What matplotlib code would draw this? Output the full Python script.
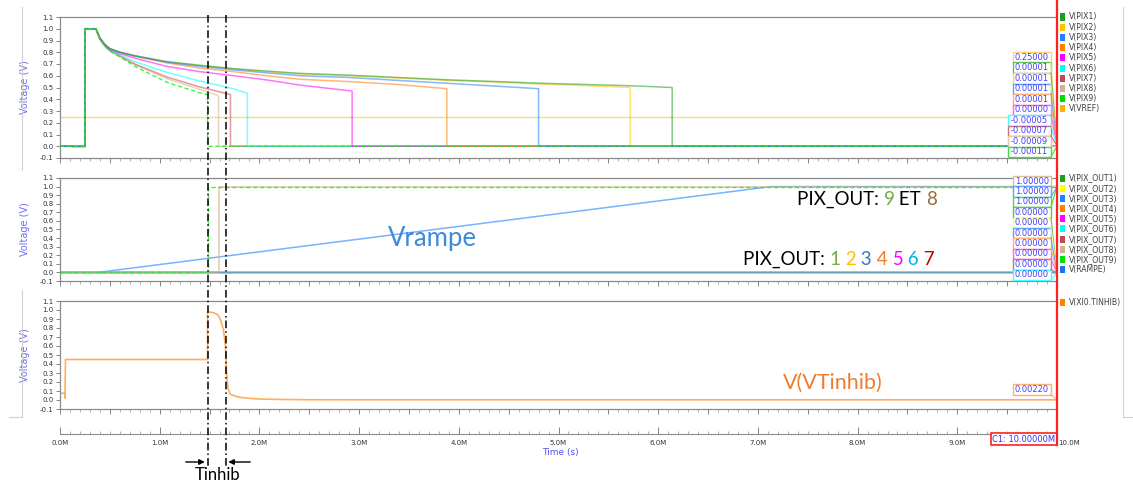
import numpy as np
import matplotlib
matplotlib.use("Agg")
import matplotlib.pyplot as plt
from matplotlib.patches import Rectangle, FancyArrowPatch
from matplotlib.lines import Line2D

W, H = 1133, 484

# ---- top panel : V(PIX1..9), V(VREF)  (time in M units) ----
pix1_t = [0, 0.25, 0.25, 0.36, 0.40, 0.45, 0.50, 0.60, 0.75, 1.07, 1.40, 1.74, 2.07, 2.41, 2.90, 3.40, 3.90, 4.40, 4.80, 5.30, 5.72, 6.14, 6.14, 10]
pix1_v = [0, 0, 1.0, 1.0, 0.92, 0.865, 0.83, 0.80, 0.77, 0.72, 0.69, 0.66, 0.64, 0.62, 0.605, 0.585, 0.565, 0.55, 0.537, 0.525, 0.515, 0.50, 0, 0]
pix2_t = [0, 0.25, 0.25, 0.36, 0.40, 0.45, 0.50, 0.60, 0.75, 1.07, 1.40, 1.74, 2.07, 2.41, 2.90, 3.40, 3.90, 4.40, 4.80, 5.30, 5.72, 5.72, 10]
pix2_v = [0, 0, 1.0, 1.0, 0.92, 0.865, 0.83, 0.80, 0.77, 0.72, 0.685, 0.66, 0.635, 0.615, 0.60, 0.58, 0.56, 0.545, 0.53, 0.515, 0.50, 0, 0]
pix3_t = [0, 0.25, 0.25, 0.36, 0.40, 0.45, 0.50, 0.60, 0.75, 1.07, 1.40, 1.74, 2.07, 2.41, 2.90, 3.40, 3.90, 4.40, 4.80, 4.80, 10]
pix3_v = [0, 0, 1.0, 1.0, 0.92, 0.865, 0.83, 0.80, 0.77, 0.715, 0.68, 0.65, 0.625, 0.60, 0.585, 0.56, 0.535, 0.51, 0.49, 0, 0]
pix4_t = [0, 0.25, 0.25, 0.36, 0.40, 0.45, 0.50, 0.60, 0.75, 1.07, 1.40, 1.74, 2.07, 2.41, 2.90, 3.40, 3.88, 3.88, 10]
pix4_v = [0, 0, 1.0, 1.0, 0.92, 0.865, 0.83, 0.80, 0.765, 0.71, 0.665, 0.635, 0.60, 0.57, 0.55, 0.525, 0.49, 0, 0]
pix5_t = [0, 0.13, 0.13, 0.25, 0.25, 0.36, 0.40, 0.45, 0.50, 0.60, 0.75, 1.07, 1.40, 1.74, 2.07, 2.41, 2.93, 2.93, 10]
pix5_v = [0, 0, -0.005, -0.005, 1.0, 1.0, 0.92, 0.86, 0.825, 0.79, 0.75, 0.68, 0.635, 0.60, 0.565, 0.52, 0.47, 0, 0]
pix6_t = [0, 0.25, 0.25, 0.36, 0.40, 0.45, 0.50, 0.60, 0.75, 1.07, 1.40, 1.48, 1.74, 1.88, 1.88, 10]
pix6_v = [0, 0, 1.0, 1.0, 0.92, 0.86, 0.82, 0.78, 0.72, 0.63, 0.555, 0.54, 0.49, 0.45, 0, 0]
pix7_t = [0, 0.25, 0.25, 0.36, 0.40, 0.45, 0.50, 0.60, 0.75, 1.07, 1.40, 1.59, 1.71, 1.71, 10]
pix7_v = [0, 0, 1.0, 1.0, 0.91, 0.855, 0.815, 0.77, 0.70, 0.59, 0.505, 0.465, 0.44, 0, 0]
pix8_t = [0, 0.25, 0.25, 0.36, 0.40, 0.45, 0.50, 0.60, 0.75, 1.07, 1.40, 1.59, 1.59, 10]
pix8_v = [0, 0, 1.0, 1.0, 0.91, 0.85, 0.81, 0.765, 0.695, 0.575, 0.485, 0.43, 0, 0]
pix9_t = [0, 0.25, 0.25, 0.36, 0.40, 0.45, 0.50, 0.60, 0.75, 1.07, 1.40, 1.48, 1.48, 10]
pix9_v = [0, 0, 1.0, 1.0, 0.91, 0.85, 0.81, 0.76, 0.68, 0.545, 0.455, 0.44, 0, 0]
vref = 0.25

# ---- middle panel : V(PIX_OUTx), V(RAMPE) ----
out9_t = [0, 1.48, 1.48, 10]
out9_v = [0, 0, 1.0, 1.0]
out8_t = [0, 1.59, 1.59, 10]
out8_v = [0, 0, 1.0, 1.0]
out_low_t = [0, 10]
out_low_v = [0, 0]
rampe_t = [0.38, 7.13, 10]
rampe_v = [0, 1.0, 1.0]

# ---- bottom panel : V(XI0.TINHIB) ----
tinhib_t = [0, 0.05, 0.05, 0.055, 1.48, 1.48, 1.54, 1.58, 1.605, 1.64, 1.66, 1.67, 1.685, 1.705, 1.75, 1.805, 1.9, 2.0, 2.2, 2.5, 3.0, 10]
tinhib_v = [0.075, 0.075, 0.02, 0.45, 0.45, 0.98, 0.97, 0.95, 0.905, 0.78, 0.59, 0.30, 0.13, 0.067, 0.045, 0.03, 0.018, 0.011, 0.006, 0.003, 0.0025, 0.0022]

cursors = [1.48, 1.66]

top_names = ["V(PIX1)", "V(PIX2)", "V(PIX3)", "V(PIX4)", "V(PIX5)", "V(PIX6)", "V(PIX7)", "V(PIX8)", "V(PIX9)", "V(VREF)"]
top_colors = ["#1e9e1e", "#ffc400", "#2080ff", "#ff7f00", "#ff00ff", "#00ffff", "#c04a55", "#d2b48c", "#00dd00", "#ffb000"]
mid_names = ["V(PIX_OUT1)", "V(PIX_OUT2)", "V(PIX_OUT3)", "V(PIX_OUT4)", "V(PIX_OUT5)", "V(PIX_OUT6)", "V(PIX_OUT7)", "V(PIX_OUT8)", "V(PIX_OUT9)", "V(RAMPE)"]
mid_colors = ["#1e9e1e", "#ffff00", "#2080ff", "#ff7f00", "#ff00ff", "#00ffff", "#c04a55", "#d2b48c", "#00dd00", "#2070e0"]

top_box_vals = ["0.25000", "0.00001", "0.00001", "0.00001", "0.00001", "0.00000", "-0.00005", "-0.00007", "-0.00009", "-0.00011"]
top_box_cols = ["#ffd070", "#60c060", "#ffd060", "#60a0ff", "#ffb070", "#ff60ff", "#40ffff", "#d07070", "#e0c8a8", "#40e040"]
mid_box_vals = ["1.00000", "1.00000", "1.00000", "0.00000", "0.00000", "0.00000", "0.00000", "0.00000", "0.00000", "0.00000"]
mid_box_cols = ["#d8c0a0", "#60a0ff", "#40e040", "#60c060", "#ffff80", "#60a0ff", "#ffb070", "#ff60ff", "#d07070", "#40ffff"]
mid_box_lvls = [1, 1, 1, 0, 0, 0, 0, 0, 0, 0]


def fx(x):
    return x / W


def fy(y):
    return 1 - y / H


fig = plt.figure(figsize=(W / 100, H / 100), dpi=100)
fig.patch.set_facecolor("white")


def add_panel(top, bottom):
    ax = fig.add_axes([fx(60), fy(bottom), (1057 - 60) / W, (bottom - top) / H])
    ax.set_facecolor("none")
    ax.set_xlim(0, 10)
    ax.set_ylim(-0.1, 1.1)
    ax.spines["right"].set_visible(False)
    for s in ["top", "left", "bottom"]:
        ax.spines[s].set_color("#8a8a8a")
        ax.spines[s].set_linewidth(0.9)
    yt = np.round(np.arange(-0.1, 1.11, 0.1), 1)
    ax.set_yticks(yt)
    ax.set_yticklabels([f"{v:.1f}" for v in yt])
    ax.tick_params(axis="y", labelsize=5, length=3, width=0.6, colors="#707070",
                   labelcolor="#333333", pad=1.5)
    ax.set_xticks(np.arange(0, 10.01, 0.5))
    ax.set_xticks(np.arange(0, 10.01, 0.1), minor=True)
    ax.tick_params(axis="x", which="major", length=3.5, width=0.6, colors="#707070", labelbottom=False)
    ax.tick_params(axis="x", which="minor", length=2, width=0.5, colors="#909090")
    ax.set_ylabel("Voltage (V)", color="#6b6bff", fontsize=7)
    ax.yaxis.set_label_coords(-30 / 997, 0.5)
    return ax


ax1 = add_panel(17, 158)
ax2 = add_panel(178, 281)
ax3 = add_panel(301, 409)

# top panel curves
ax1.axhline(vref, color="#ffb000", lw=1.0, alpha=0.5)
series = [(pix1_t, pix1_v), (pix2_t, pix2_v), (pix3_t, pix3_v), (pix4_t, pix4_v), (pix5_t, pix5_v),
          (pix6_t, pix6_v), (pix7_t, pix7_v), (pix8_t, pix8_v)]
order = [7, 6, 5, 4, 3, 1, 0, 2]
for i in order:
    t, v = series[i]
    ax1.plot(t, v, color=top_colors[i], lw=1.1, alpha=0.55)
ax1.plot(pix9_t, pix9_v, color="#22ee22", lw=1.0, ls=(0, (3, 2)), alpha=0.85)

# middle panel curves
for i in [0, 1, 2, 3, 4, 6]:
    ax2.plot(out_low_t, out_low_v, color=mid_colors[i], lw=1.0, alpha=0.5)
ax2.plot(out_low_t, out_low_v, color="#00ffff", lw=1.1, alpha=0.6)
ax2.plot(rampe_t, rampe_v, color="#2080ff", lw=1.1, alpha=0.6)
ax2.plot(out8_t, out8_v, color="#d2b48c", lw=1.1, alpha=0.7)
ax2.plot(out9_t, out9_v, color="#22ee22", lw=1.0, ls=(0, (3, 2)), alpha=0.85)

# bottom panel curve
ax3.plot(tinhib_t, tinhib_v, color="#ff9a30", lw=1.2, alpha=0.8)

# separate time axis
ax4 = fig.add_axes([fx(60), fy(434), 997 / W, 8 / H])
ax4.set_facecolor("none")
for s in ["top", "left", "right"]:
    ax4.spines[s].set_visible(False)
ax4.spines["bottom"].set_color("#8a8a8a")
ax4.set_yticks([])
ax4.set_xlim(0, 10)
ax4.set_xticks(np.arange(0, 10.01, 1.0))
ax4.set_xticklabels([f"{v:.1f}M" for v in np.arange(0, 9.01, 1.0)] + [""])
ax4.set_xticks(np.arange(0, 10.01, 0.1), minor=True)
ax4.tick_params(axis="x", which="major", direction="in", length=5, width=0.6, colors="#707070",
                labelsize=5, labelcolor="#333333", pad=4)
ax4.tick_params(axis="x", which="minor", direction="in", length=2.5, width=0.5, colors="#909090")
# last label sits just right of the C1 box, as in the screenshot
fig.text(fx(1058), fy(443), "10.0M", fontsize=5, color="#333333", ha="left", va="center")
fig.text(fx(560), fy(452), "Time (s)", color="#5050ff", fontsize=6.5, ha="center", va="center")

# panel frame lines
for (x0, y0, x1, y1) in [(22, 7, 22, 170), (22, 290, 22, 417), (9, 417, 22, 417),
                         (1123, 7, 1123, 417), (1123, 417, 1133, 417)]:
    fig.add_artist(Line2D([fx(x0), fx(x1)], [fy(y0), fy(y1)], color="#d0d0d0", lw=0.8))


def legend(names, colors, y0, step):
    for k, (n, c) in enumerate(zip(names, colors)):
        y = y0 + k * step
        fig.add_artist(Rectangle((fx(1060), fy(y + 3.5)), 4.5 / W, 7 / H, color=c, lw=0))
        fig.text(fx(1069), fy(y), n, fontsize=5.6, color="#404040", va="center", ha="left")


legend(top_names, top_colors, 17, 10.2)
legend(mid_names, mid_colors, 178, 10.2)
legend(["V(XI0.TINHIB)"], ["#ff7f00"], 302, 10.2)


def value_boxes(vals, cols, y0, h, targets):
    for k, (v, c) in enumerate(zip(vals, cols)):
        top = y0 + k * h
        left = 1008 if v.startswith("-") else 1013
        fig.add_artist(Line2D([fx(1051), fx(1057)], [fy(top + h), fy(targets[k])], color=c, lw=0.8))
        fig.add_artist(Rectangle((fx(left), fy(top + h)), (1051 - left) / W, h / H,
                                 facecolor="white", edgecolor=c, lw=1.0))
        fig.text(fx((left + 1051) / 2), fy(top + h / 2), v, fontsize=6, color="#4040ff",
                 ha="center", va="center")


value_boxes(top_box_vals, top_box_cols, 52, 10.5, [146] * 10)
value_boxes(mid_box_vals, mid_box_cols, 176, 10.4, [186.6 if l else 272.6 for l in mid_box_lvls])
value_boxes(["0.00220"], ["#ffb070"], 384, 10.5, [400])

# cursors
for c in cursors:
    x = 60 + c * 99.7
    fig.add_artist(Line2D([fx(x), fx(x)], [fy(15), fy(468)], color="black", lw=1.1,
                          ls=(0, (5, 2, 1, 2))))

# red cursor at end + C1 box
fig.add_artist(Line2D([fx(1057), fx(1057)], [fy(0), fy(445)], color="#ff2020", lw=1.6))
fig.add_artist(Rectangle((fx(991), fy(445)), 66 / W, 12 / H, facecolor="white", edgecolor="#ff2020", lw=1.2))
fig.text(fx(1024), fy(439), "C1: 10.00000M", fontsize=6, color="#3333ff", ha="center", va="center")

# Tinhib arrows
x_a = 60 + cursors[0] * 99.7
x_b = 60 + cursors[1] * 99.7
fig.add_artist(FancyArrowPatch((fx(183), fy(462)), (fx(x_a), fy(462)), arrowstyle="-|>",
                               mutation_scale=8, color="black", lw=1.0))
fig.add_artist(FancyArrowPatch((fx(253), fy(462)), (fx(x_b), fy(462)), arrowstyle="-|>",
                               mutation_scale=8, color="black", lw=1.0))
fig.text(fx(218), fy(480), "Tinhib", fontsize=12, family="Lato", ha="center", va="baseline")

# annotations
renderer = fig.canvas.get_renderer()


def color_text(x, y, parts, size):
    xpos = fx(x)
    for s, c in parts:
        t = fig.text(xpos, fy(y), s, color=c, fontsize=size, family="Lato", ha="left", va="baseline")
        bb = t.get_window_extent(renderer)
        xpos = bb.x1 / W


color_text(797, 205, [("PIX_OUT: ", "black"), ("9", "#70ad47"), (" ET ", "black"), ("8", "#9c6a3c")], 13.5)
color_text(743, 265, [("PIX_OUT: ", "black"), ("1", "#70ad47"), (" 2", "#ffc000"), (" 3", "#4472c4"),
                      (" 4", "#ed7d31"), (" 5", "#ff00ff"), (" 6", "#00b0f0"), (" 7", "#c00000")], 13.5)
fig.text(fx(388), fy(246), "Vrampe", color="#3d8bd9", fontsize=18.5, family="Lato", va="baseline")
fig.text(fx(783), fy(389), "V(VTinhib)", color="#ed7d31", fontsize=15.5, family="Lato", va="baseline")

fig.savefig("out.png", dpi=100)
